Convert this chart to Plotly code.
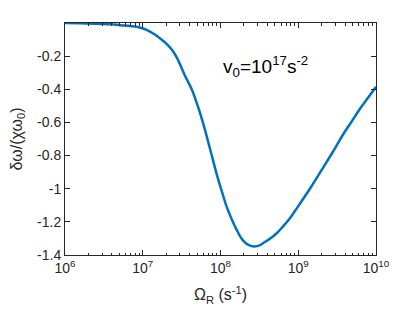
import plotly.graph_objects as go

# curve (log10 of Omega_R, delta omega / (chi omega_0))
log_omega = [6.0, 6.2, 6.4, 6.6, 6.71, 6.85, 6.96, 7.05, 7.14, 7.22, 7.31, 7.38, 7.44,
             7.54, 7.63, 7.7, 7.78, 7.86, 7.95, 8.02, 8.08, 8.15, 8.21, 8.27, 8.33,
             8.39, 8.44, 8.5, 8.56, 8.64, 8.72, 8.8, 8.89, 9.0, 9.15, 9.26, 9.37,
             9.48, 9.58, 9.69, 9.79, 9.9, 10.0]
dw = [-0.0, -0.002, -0.004, -0.008, -0.013, -0.019, -0.027, -0.042, -0.065, -0.092,
      -0.127, -0.165, -0.21, -0.315, -0.40, -0.49, -0.61, -0.75, -0.91, -1.02,
      -1.11, -1.19, -1.25, -1.30, -1.33, -1.345, -1.348, -1.342, -1.325, -1.30,
      -1.27, -1.23, -1.18, -1.105, -1.0, -0.918, -0.835, -0.75, -0.67, -0.592,
      -0.52, -0.45, -0.385]
omega = [10 ** v for v in log_omega]

x_ticks = [1e6, 1e7, 1e8, 1e9, 1e10]
x_ticktext = ["10<sup>6</sup>", "10<sup>7</sup>", "10<sup>8</sup>", "10<sup>9</sup>", "10<sup>10</sup>"]
y_ticks = [-0.2, -0.4, -0.6, -0.8, -1, -1.2, -1.4]
y_ticktext = ["-0.2", "-0.4", "-0.6", "-0.8", "-1", "-1.2", "-1.4"]
minor_vals = [m * 10 ** e for e in range(6, 10) for m in range(2, 10)]

fig = go.Figure()
fig.add_trace(go.Scatter(x=omega, y=dw, mode="lines",
                         line=dict(color="#0072BD", width=2.5, shape="spline", smoothing=1.0)))

axis_style = dict(showline=True, linecolor="#262626", linewidth=1, mirror="allticks",
                  ticks="inside", ticklen=5, tickcolor="#262626", showgrid=False,
                  zeroline=False, automargin=False, tickfont=dict(size=14, color="#262626"))

fig.update_xaxes(type="log", range=[6, 10], tickmode="array", tickvals=x_ticks, ticktext=x_ticktext,
                 minor=dict(tickmode="array", tickvals=minor_vals, ticks="inside", ticklen=2.5,
                            tickcolor="#262626", showgrid=False),
                 title=dict(text="Ω<sub>R</sub> (s<sup>-1</sup>)", font=dict(size=16, color="#262626"), standoff=14),
                 **axis_style)
fig.update_yaxes(range=[-1.4, 0], tickvals=y_ticks, ticktext=y_ticktext,
                 title=dict(text="δω/(χω<sub>0</sub>)", font=dict(size=16, color="#262626"), standoff=10),
                 **axis_style)

fig.add_annotation(x=8.0, y=-0.26, xref="x", yref="y", xanchor="left", yanchor="middle",
                   text="v<sub>0</sub>=10<sup>17</sup>s<sup>-2</sup>", showarrow=False,
                   font=dict(size=19, color="black"))

# the page body adds an 8px margin, so the figure is a little smaller to keep the plot box in place
fig.update_layout(width=407, height=304, margin=dict(l=57, r=39, t=15, b=57),
                  plot_bgcolor="white", paper_bgcolor="white", showlegend=False,
                  font=dict(family="Liberation Sans, Arial, sans-serif"))

fig.write_html("out.html")
